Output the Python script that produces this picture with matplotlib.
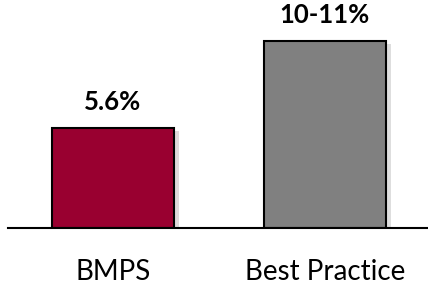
import matplotlib
matplotlib.use("Agg")
import matplotlib.pyplot as plt
import matplotlib.patheffects as pe

categories = ["BMPS", "Best Practice"]
values = [5.6, 10.5]
value_labels = ["5.6%", "10-11%"]
colors = ["#990030", "#808080"]

plt.rcParams['font.family'] = ['Lato', 'DejaVu Sans']

fig = plt.figure(figsize=(4.28, 2.85), dpi=100)
ax = fig.add_axes([8 / 428, 57 / 285, 420 / 428, 0.75])

bars = ax.bar(range(len(categories)), values, width=0.575, color=colors,
              edgecolor="black", linewidth=1.5, zorder=3)
for b in bars:
    b.set_path_effects([pe.SimplePatchShadow(offset=(4, -2), alpha=0.15), pe.Normal()])

for i, (v, lab) in enumerate(zip(values, value_labels)):
    ax.annotate(lab, (i, v), xytext=(0, 10), textcoords="offset points",
                ha="center", va="bottom", fontsize=18.5, fontweight="bold")

ax.set_xlim(-0.495, 1.486)
ax.set_ylim(0, 12)
ax.set_xticks(range(len(categories)))
ax.set_xticklabels(categories, fontsize=20)
ax.tick_params(axis="x", length=0, pad=22)
ax.set_yticks([])
for s in ["top", "right", "left"]:
    ax.spines[s].set_visible(False)
ax.spines["bottom"].set_linewidth(1.5)
ax.spines["bottom"].set_zorder(4)

fig.savefig("out.png", dpi=100)
